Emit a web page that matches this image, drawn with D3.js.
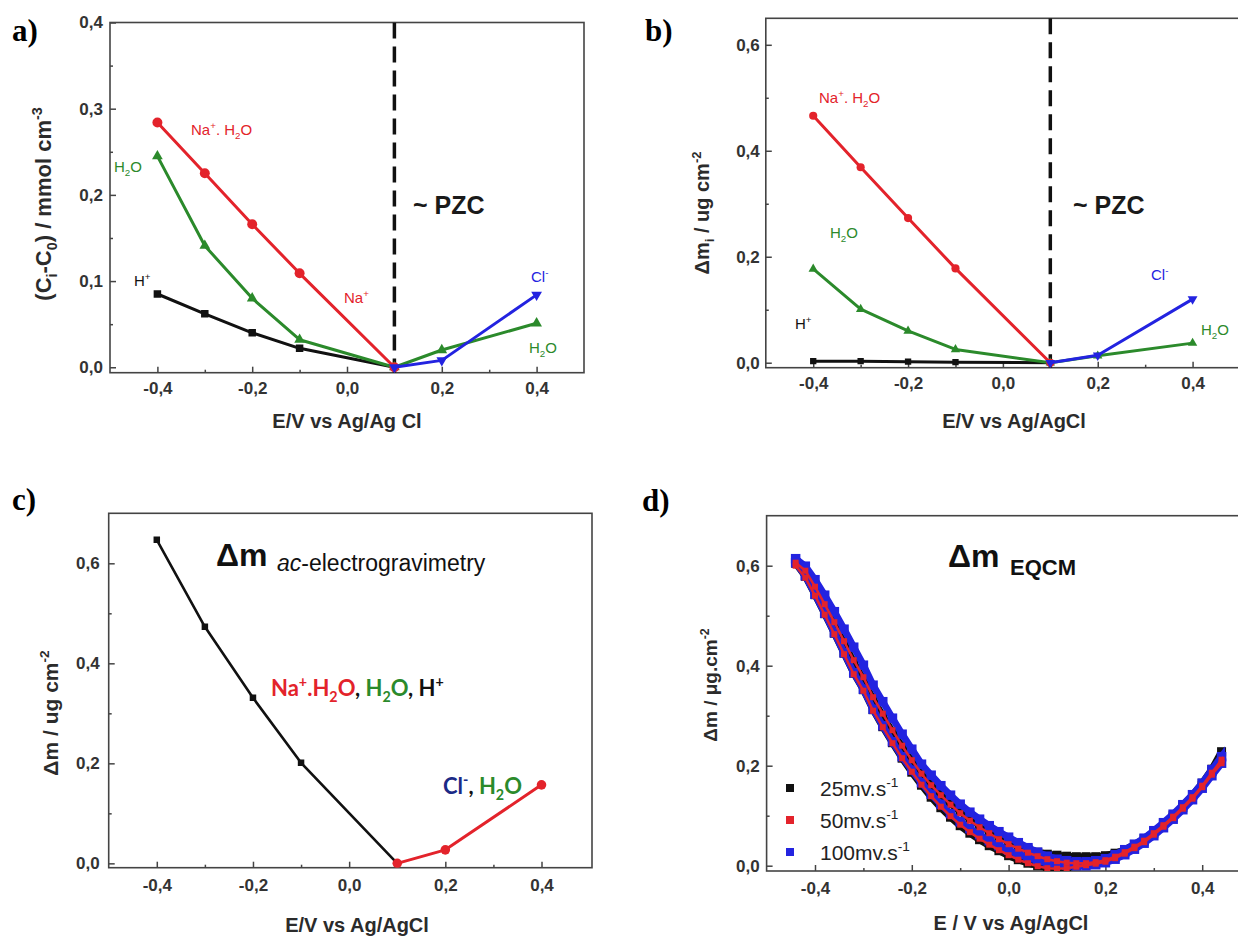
<!DOCTYPE html>
<html>
<head>
<meta charset="utf-8">
<script src="https://cdn.jsdelivr.net/npm/d3@7"></script>
<style>
body { margin: 0; background: #fff; }
svg { display: block; font-family: "Liberation Sans", Arial, sans-serif; }
.tick text { font-size: 17px; font-weight: bold; fill: #333; font-family: "Liberation Sans", Arial, sans-serif; }
.tick line { stroke: #444; stroke-width: 1.5; }
</style>
</head>
<body>
<script>
// ---- data ----
// a) concentration changes (mmol cm-3)
const potCation = [-0.4, -0.3, -0.2, -0.1, 0.1];
const potWater = [-0.4, -0.3, -0.2, -0.1, 0.1, 0.2, 0.4];
const potAnion = [0.1, 0.2, 0.4];
const concNa = [0.284, 0.225, 0.166, 0.109, 0.0];
const concH2O = [0.245, 0.141, 0.080, 0.032, 0.0, 0.020, 0.051];
const concH = [0.085, 0.062, 0.040, 0.022, 0.0];
const concCl = [0.0, 0.008, 0.084];

// b) partial mass changes (ug cm-2)
const massNa = [0.466, 0.369, 0.273, 0.178, 0.0];
const massH2O = [0.177, 0.101, 0.060, 0.025, 0.0, 0.013, 0.037];
const massH = [0.003, 0.003, 0.002, 0.001, 0.0];
const massCl = [0.0, 0.014, 0.120];

// c) total mass from ac-electrogravimetry
const potCathodic = [-0.4, -0.3, -0.2, -0.1, 0.1];
const massCathodic = [0.647, 0.473, 0.331, 0.201, 0.0];
const potAnodic = [0.1, 0.2, 0.4];
const massAnodic = [0.0, 0.027, 0.157];

// d) EQCM mass vs potential, two scan branches per scan rate
const scanE = [-0.44, -0.42, -0.40, -0.38, -0.36, -0.34, -0.32, -0.30, -0.28, -0.26, -0.24, -0.22, -0.20, -0.18, -0.16,
  -0.14, -0.12, -0.10, -0.08, -0.06, -0.04, -0.02, 0.00, 0.02, 0.04, 0.06, 0.08, 0.10, 0.12, 0.14,
  0.16, 0.18, 0.20, 0.22, 0.24, 0.26, 0.28, 0.30, 0.32, 0.34, 0.36, 0.38, 0.40, 0.42, 0.44];
const m25Low = [0.605, 0.579, 0.542, 0.504, 0.465, 0.425, 0.385, 0.352, 0.312, 0.278, 0.246, 0.215, 0.187, 0.161, 0.137,
  0.116, 0.097, 0.080, 0.065, 0.052, 0.040, 0.030, 0.020, 0.012, 0.005, 0.000, -0.004, -0.006, -0.004, 0.000,
  0.003, 0.006, 0.010, 0.017, 0.026, 0.037, 0.049, 0.064, 0.080, 0.097, 0.116, 0.137, 0.160, 0.188, 0.218];
const m25High = [0.606, 0.588, 0.555, 0.519, 0.483, 0.445, 0.407, 0.372, 0.333, 0.300, 0.268, 0.238, 0.210, 0.184, 0.162,
  0.142, 0.124, 0.108, 0.094, 0.081, 0.069, 0.058, 0.048, 0.040, 0.033, 0.027, 0.023, 0.021, 0.019, 0.018,
  0.018, 0.018, 0.020, 0.025, 0.032, 0.042, 0.054, 0.068, 0.084, 0.101, 0.120, 0.141, 0.165, 0.193, 0.228];
const m50Low = [0.600, 0.576, 0.540, 0.502, 0.463, 0.423, 0.383, 0.350, 0.310, 0.277, 0.245, 0.215, 0.188, 0.162, 0.139,
  0.118, 0.099, 0.082, 0.067, 0.054, 0.042, 0.031, 0.021, 0.012, 0.005, -0.001, -0.005, -0.006, -0.005, -0.002,
  0.001, 0.004, 0.008, 0.015, 0.024, 0.035, 0.047, 0.062, 0.078, 0.095, 0.114, 0.134, 0.157, 0.182, 0.205];
const m50High = [0.606, 0.590, 0.558, 0.523, 0.487, 0.449, 0.411, 0.377, 0.337, 0.304, 0.271, 0.240, 0.211, 0.184, 0.161,
  0.141, 0.122, 0.105, 0.090, 0.077, 0.065, 0.053, 0.043, 0.034, 0.026, 0.019, 0.013, 0.009, 0.006, 0.005,
  0.005, 0.007, 0.011, 0.018, 0.027, 0.038, 0.050, 0.065, 0.081, 0.098, 0.117, 0.137, 0.160, 0.186, 0.212];
const m100Low = [0.606, 0.580, 0.543, 0.505, 0.466, 0.426, 0.386, 0.353, 0.313, 0.280, 0.248, 0.218, 0.191, 0.166, 0.143,
  0.123, 0.104, 0.088, 0.074, 0.062, 0.050, 0.040, 0.031, 0.023, 0.016, 0.010, 0.006, 0.003, 0.001, 0.000,
  0.000, 0.002, 0.006, 0.013, 0.022, 0.033, 0.045, 0.060, 0.076, 0.093, 0.112, 0.132, 0.155, 0.180, 0.205];
const m100High = [0.614, 0.599, 0.572, 0.541, 0.508, 0.473, 0.437, 0.401, 0.361, 0.328, 0.295, 0.263, 0.233, 0.203, 0.181,
  0.160, 0.141, 0.123, 0.107, 0.093, 0.080, 0.068, 0.057, 0.046, 0.036, 0.027, 0.019, 0.013, 0.010, 0.008,
  0.008, 0.010, 0.014, 0.022, 0.032, 0.043, 0.055, 0.070, 0.086, 0.103, 0.122, 0.142, 0.165, 0.192, 0.218];
const scanRates = ["25mv.s", "50mv.s", "100mv.s"];

// ticks
const xMajor = [-0.4, -0.2, 0.0, 0.2, 0.4];
const xMinor = [-0.3, -0.1, 0.1, 0.3];
const pzc = 0.1;

const RED = "#e3232b", GREEN = "#2b8a2b", BLUE = "#2323e0", BLACK = "#111";

const width = 1238;
const height = 937;

const svg = d3.select("body").append("svg")
    .attr("width", width)
    .attr("height", height);

const fmt = d3.formatLocale({decimal: ",", thousands: ".", grouping: [3], currency: ["", ""], minus: "-"}).format(".1f");

// text with sub / superscript parts
function richText(sel, x, y, parts, opt) {
    const t = sel.append("text")
        .attr("x", x)
        .attr("y", y)
        .attr("font-size", opt.size)
        .attr("font-weight", opt.weight || "normal")
        .attr("fill", opt.color || "#2b2b2b")
        .attr("text-anchor", opt.anchor || "start");
    if (opt.family) t.attr("font-family", opt.family);
    if (opt.rotate) t.attr("transform", "rotate(-90," + x + "," + y + ")");
    let shift = 0;
    parts.forEach(function (p) {
        const s = p.sup ? -0.42 * opt.size : (p.sub ? 0.25 * opt.size : 0);
        const ts = t.append("tspan").attr("dy", s - shift).text(p.t);
        if (p.sup || p.sub) ts.attr("font-size", opt.size * 0.65);
        if (p.c) ts.attr("fill", p.c);
        if (p.i) ts.attr("font-style", "italic");
        shift = s;
    });
    return t;
}

const H2O = function (c) { return [{t: "H", c: c}, {t: "2", sub: true, c: c}, {t: "O", c: c}]; };

// frame + axes
function makePanel(cfg) {
    const x = d3.scaleLinear().domain(cfg.xDom).range([cfg.left, cfg.right]);
    const y = d3.scaleLinear().domain(cfg.yDom).range([cfg.bottom, cfg.top]);
    const g = svg.append("g");

    const clipId = "clip" + cfg.id;
    svg.append("clipPath").attr("id", clipId)
        .append("rect")
        .attr("x", cfg.left).attr("y", cfg.top)
        .attr("width", cfg.right - cfg.left).attr("height", cfg.bottom - cfg.top);

    const xa = g.append("g").attr("transform", "translate(0," + cfg.bottom + ")")
        .call(d3.axisBottom(x).tickValues(xMajor).tickFormat(fmt)
            .tickSizeInner(-6).tickSizeOuter(0).tickPadding(cfg.xPad));
    const xm = g.append("g").attr("transform", "translate(0," + cfg.bottom + ")")
        .call(d3.axisBottom(x).tickValues(xMinor).tickFormat("").tickSizeInner(-3).tickSizeOuter(0));
    const ya = g.append("g").attr("transform", "translate(" + cfg.left + ",0)")
        .call(d3.axisLeft(y).tickValues(cfg.yMajor).tickFormat(fmt)
            .tickSizeInner(-6).tickSizeOuter(0).tickPadding(cfg.yPad));
    const ym = g.append("g").attr("transform", "translate(" + cfg.left + ",0)")
        .call(d3.axisLeft(y).tickValues(cfg.yMinor).tickFormat("").tickSizeInner(-3).tickSizeOuter(0));
    [xa, xm, ya, ym].forEach(function (a) { a.select(".domain").remove(); });

    g.append("rect")
        .attr("x", cfg.left).attr("y", cfg.top)
        .attr("width", cfg.right - cfg.left).attr("height", cfg.bottom - cfg.top)
        .attr("fill", "none").attr("stroke", "#444").attr("stroke-width", 1.6);

    const plot = svg.append("g").attr("clip-path", "url(#" + clipId + ")");

    // panel letter
    svg.append("text").attr("x", cfg.letterX).attr("y", cfg.letterY)
        .attr("font-family", "'Liberation Serif', 'Times New Roman', serif")
        .attr("font-weight", "bold").attr("font-size", 31)
        .text(cfg.letter);

    return {x: x, y: y, g: plot};
}

function series(p, xs, ys, color, shape, size, lw, rot) {
    const pts = xs.map(function (e, i) { return [e, ys[i]]; });
    p.g.append("path").datum(pts)
        .attr("fill", "none").attr("stroke", color).attr("stroke-width", lw)
        .attr("stroke-linejoin", "round")
        .attr("d", d3.line().x(function (d) { return p.x(d[0]); }).y(function (d) { return p.y(d[1]); }));
    p.g.selectAll(null).data(pts.filter(function (d) { return shape !== d3.symbolSquare || d[1] > 0; }))
        .enter().append("path")
        .attr("d", d3.symbol().type(shape).size(size))
        .attr("transform", function (d) {
            return "translate(" + p.x(d[0]) + "," + p.y(d[1]) + ")" + (rot ? " rotate(180)" : "");
        })
        .attr("fill", color);
}

function pzcLine(p) {
    p.g.append("line")
        .attr("x1", p.x(pzc)).attr("x2", p.x(pzc))
        .attr("y1", p.y.range()[1]).attr("y2", p.y.range()[0])
        .attr("stroke", "#111").attr("stroke-width", 3.5)
        .attr("stroke-dasharray", "16,8");
}

// ---------------- panel a ----------------
const pa = makePanel({
    id: "a", letter: "a)", letterX: 12, letterY: 41,
    left: 110, right: 584, top: 22.5, bottom: 372.7,
    xDom: [-0.5, 0.5], yDom: [-0.0063, 0.4],
    yMajor: [0.0, 0.1, 0.2, 0.3, 0.4], yMinor: [0.05, 0.15, 0.25, 0.35],
    xPad: 9, yPad: 7
});
pzcLine(pa);
series(pa, potCation, concH, BLACK, d3.symbolSquare, 56, 3);
series(pa, potWater, concH2O, GREEN, d3.symbolTriangle, 50, 3);
series(pa, potCation, concNa, RED, d3.symbolCircle, 78, 3);
series(pa, potAnion, concCl, BLUE, d3.symbolTriangle, 50, 3, true);

richText(svg, 51, 204, [{t: "(C"}, {t: "i", sub: true}, {t: "-C"}, {t: "0", sub: true}, {t: ") / mmol cm"}, {t: "-3", sup: true}],
    {size: 22, weight: "bold", anchor: "middle", rotate: true});
richText(svg, 347, 428, [{t: "E/V vs Ag/Ag Cl"}], {size: 20, weight: "bold", anchor: "middle"});
richText(svg, 413, 214, [{t: "~ PZC"}], {size: 25, weight: "bold", color: "#1a1a1a"});
richText(svg, 191, 135, [{t: "Na"}, {t: "+", sup: true}, {t: ". "}].concat(H2O()), {size: 15, color: RED});
richText(svg, 114, 172, H2O(), {size: 15, color: GREEN});
richText(svg, 134, 286, [{t: "H"}, {t: "+", sup: true}], {size: 15, color: BLACK});
richText(svg, 344, 303, [{t: "Na"}, {t: "+", sup: true}], {size: 15, color: RED});
richText(svg, 531, 282, [{t: "Cl"}, {t: "-", sup: true}], {size: 15, color: BLUE});
richText(svg, 529, 353, H2O(), {size: 15, color: GREEN});

// ---------------- panel b ----------------
const pb = makePanel({
    id: "b", letter: "b)", letterX: 645, letterY: 41,
    left: 765.8, right: 1240, top: 18.3, bottom: 367.7,
    xDom: [-0.5, 0.5], yDom: [-0.0094, 0.65],
    yMajor: [0.0, 0.2, 0.4, 0.6], yMinor: [0.1, 0.3, 0.5],
    xPad: 9, yPad: 6
});
pzcLine(pb);
series(pb, potCation, massH, BLACK, d3.symbolSquare, 40, 3);
series(pb, potWater, massH2O, GREEN, d3.symbolTriangle, 38, 3);
series(pb, potCation, massNa, RED, d3.symbolCircle, 52, 3);
series(pb, potAnion, massCl, BLUE, d3.symbolTriangle, 42, 3, true);

richText(svg, 709, 213, [{t: "Δm"}, {t: "i", sub: true}, {t: " / ug cm"}, {t: "-2", sup: true}],
    {size: 20, weight: "bold", anchor: "middle", rotate: true});
richText(svg, 1014, 428, [{t: "E/V vs Ag/AgCl"}], {size: 20, weight: "bold", anchor: "middle"});
richText(svg, 1073, 214, [{t: "~ PZC"}], {size: 25, weight: "bold", color: "#1a1a1a"});
richText(svg, 819, 103, [{t: "Na"}, {t: "+", sup: true}, {t: ". "}].concat(H2O()), {size: 15, color: RED});
richText(svg, 830, 238, H2O(), {size: 15, color: GREEN});
richText(svg, 795, 329, [{t: "H"}, {t: "+", sup: true}], {size: 15, color: BLACK});
richText(svg, 1151, 280, [{t: "Cl"}, {t: "-", sup: true}], {size: 15, color: BLUE});
richText(svg, 1201, 335, H2O(), {size: 15, color: GREEN});

// ---------------- panel c ----------------
const pc = makePanel({
    id: "c", letter: "c)", letterX: 12, letterY: 510,
    left: 108.7, right: 592, top: 513.3, bottom: 867.7,
    xDom: [-0.5, 0.505], yDom: [-0.0087, 0.7],
    yMajor: [0.0, 0.2, 0.4, 0.6], yMinor: [0.1, 0.3, 0.5],
    xPad: 11, yPad: 9
});
series(pc, potCathodic, massCathodic, BLACK, d3.symbolSquare, 42, 2.6);
series(pc, potAnodic, massAnodic, RED, d3.symbolCircle, 72, 3);

richText(svg, 58, 713, [{t: "Δm / ug cm"}, {t: "-2", sup: true}],
    {size: 21, weight: "bold", anchor: "middle", rotate: true});
richText(svg, 357, 932, [{t: "E/V vs Ag/AgCl"}], {size: 20, weight: "bold", anchor: "middle"});
richText(svg, 216, 566, [{t: "Δm"}], {size: 32, weight: "bold", color: "#111"});
richText(svg, 277, 571, [{t: "ac", i: true}, {t: "-electrogravimetry"}], {size: 23, color: "#111"});
richText(svg, 271, 696, [{t: "Na", c: RED}, {t: "+", sup: true, c: RED}, {t: ".", c: RED}].concat(H2O(RED))
    .concat([{t: ", ", c: BLACK}]).concat(H2O(GREEN)).concat([{t: ", H", c: BLACK}, {t: "+", sup: true, c: BLACK}]),
    {size: 22, weight: "bold", family: "Lato, 'Open Sans', sans-serif"});
richText(svg, 443, 794, [{t: "Cl", c: "#1b2a86"}, {t: "-", sup: true, c: "#1b2a86"}, {t: ", ", c: BLACK}].concat(H2O(GREEN)),
    {size: 22, weight: "bold", family: "Lato, 'Open Sans', sans-serif"});

// ---------------- panel d ----------------
const pd = makePanel({
    id: "d", letter: "d)", letterX: 642, letterY: 511,
    left: 766.6, right: 1250.6, top: 515.7, bottom: 871,
    xDom: [-0.5, 0.5], yDom: [-0.0106, 0.7],
    yMajor: [0.0, 0.2, 0.4, 0.6], yMinor: [0.1, 0.3, 0.5],
    xPad: 11, yPad: 7
});

function scanLoop(p, low, high, color, size, lw) {
    const pts = scanE.map(function (e, i) { return [e, low[i]]; })
        .concat(scanE.map(function (e, i) { return [e, high[i]]; }).reverse());
    p.g.append("path").datum(pts)
        .attr("fill", "none").attr("stroke", color).attr("stroke-width", lw)
        .attr("d", d3.line().x(function (d) { return p.x(d[0]); }).y(function (d) { return p.y(d[1]); }));
    p.g.selectAll(null).data(pts).enter().append("rect")
        .attr("x", function (d) { return p.x(d[0]) - size / 2; })
        .attr("y", function (d) { return p.y(d[1]) - size / 2; })
        .attr("width", size).attr("height", size)
        .attr("fill", color);
}
scanLoop(pd, m25Low, m25High, BLACK, 9, 7);
scanLoop(pd, m100Low, m100High, BLUE, 9.5, 7);
scanLoop(pd, m50Low, m50High, RED, 6, 2.5);

// legend
const legColors = [BLACK, RED, BLUE];
scanRates.forEach(function (r, i) {
    const ly = 788 + i * 32;
    svg.append("rect").attr("x", 786).attr("y", ly - 4).attr("width", 8).attr("height", 8).attr("fill", legColors[i]);
    richText(svg, 820, ly + 8, [{t: r}, {t: "-1", sup: true}], {size: 21, color: "#222"});
});

richText(svg, 717, 685, [{t: "Δm / μg.cm"}, {t: "-2", sup: true}],
    {size: 19, weight: "bold", anchor: "middle", rotate: true});
richText(svg, 1011, 930, [{t: "E / V vs Ag/AgCl"}], {size: 20, weight: "bold", anchor: "middle"});
richText(svg, 948, 567, [{t: "Δm"}], {size: 32, weight: "bold", color: "#111"});
richText(svg, 1010, 575, [{t: "EQCM"}], {size: 22, weight: "bold", color: "#111"});
</script>
</body>
</html>
